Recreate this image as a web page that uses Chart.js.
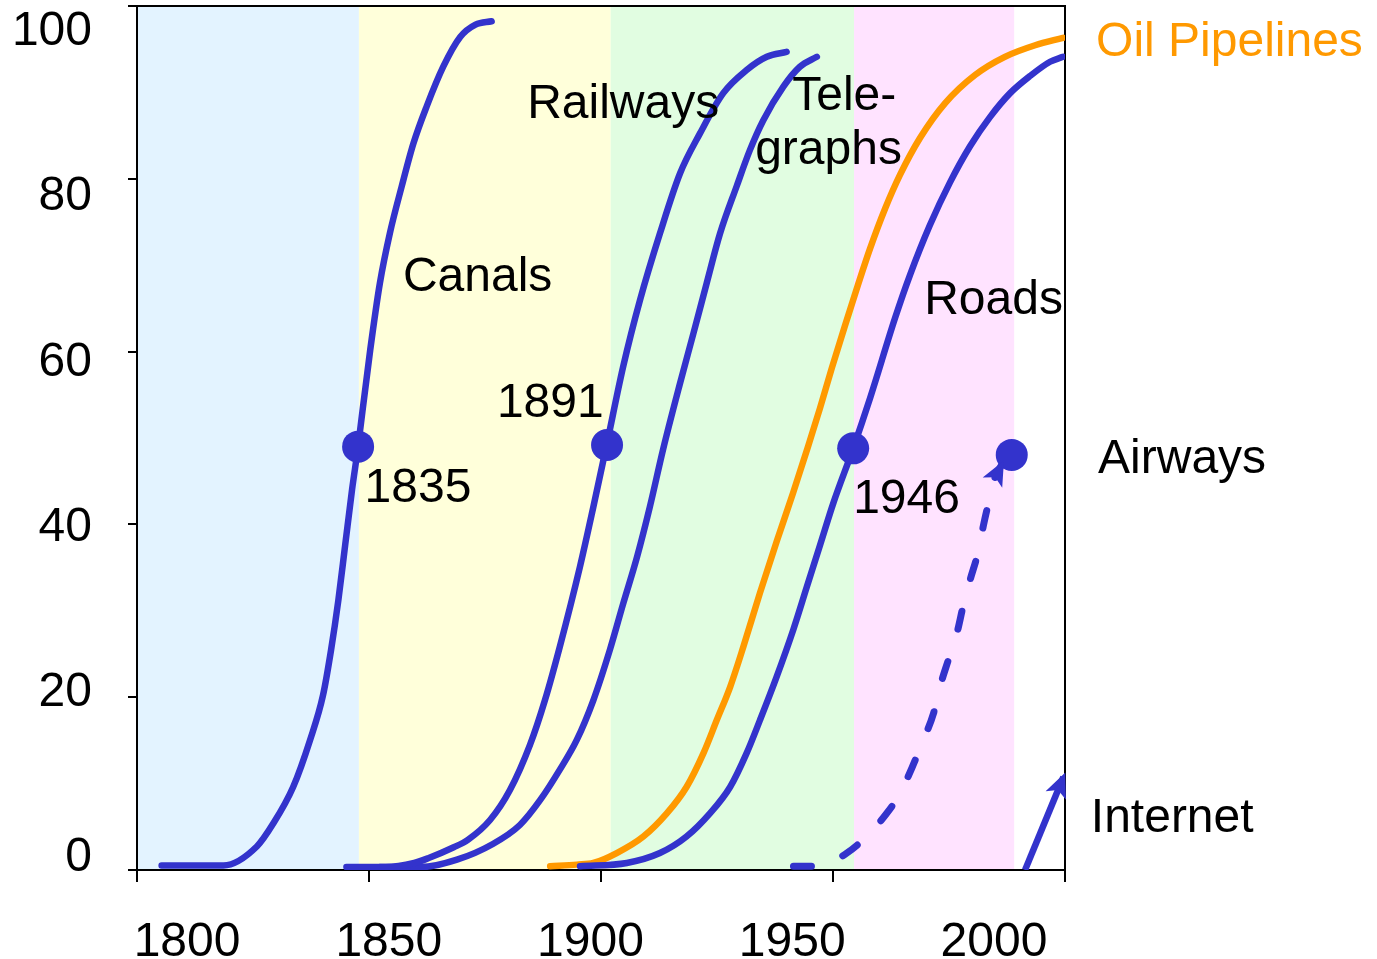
<!DOCTYPE html>
<html lang="en">
<head>
<meta charset="UTF-8">
<title>Diffusion of transport infrastructures</title>
<script src="https://cdn.jsdelivr.net/npm/chart.js"></script>
<style>
  html, body { margin: 0; padding: 0; background: #fff; }
  canvas { display: block; }
</style>
</head>
<body>
<canvas id="diffusionChart" width="1377" height="959"></canvas>
<script>
// [year, % of saturation]
const canals = [[1793.7,-0.9],[1809.0,-0.9],[1817.3,1.4],[1821.4,4.2],[1826.3,8.6],[1830.5,14.3],[1833.7,19.7],[1835.7,25.2],[1837.5,31.2],[1839.2,37.9],[1840.9,44.6],[1842.4,49.8],[1842.9,51.8],[1845.4,61.5],[1847.8,69.6],[1850.3,75.7],[1853.2,81.3],[1856.1,86.5],[1859.4,91.0],[1863.5,95.8],[1867.7,99.4],[1871.5,100.9],[1875.5,101.3]];
const railways = [[1839.5,-1.1],[1849.2,-1.1],[1856.3,-0.6],[1859.9,0],[1866.1,1.3],[1869.6,2.2],[1875.1,4.6],[1880.0,8.2],[1885.0,13.7],[1888.7,19.1],[1892.4,25.6],[1897.4,35.3],[1900.7,42.5],[1904.0,50.0],[1908.1,59.5],[1912.3,67.6],[1917.2,75.6],[1922.2,82.9],[1927.1,87.7],[1932.9,92.6],[1938.7,95.4],[1943.7,97.0],[1948.6,97.6]];
const telegraphs = [[1847.8,-1.1],[1858.0,-1.1],[1866.9,-0.2],[1875.8,1.7],[1882.5,4.0],[1887.5,7.0],[1892.4,10.7],[1896.6,14.3],[1900.7,19.1],[1904.8,25.2],[1908.1,30.8],[1911.5,36.4],[1914.7,42.5],[1918.0,49.5],[1922.2,57.5],[1925.5,63.5],[1928.8,69.6],[1932.1,75.6],[1936.2,81.3],[1939.5,85.7],[1942.8,89.3],[1947.8,93.4],[1951.9,95.8],[1956.1,97.0]];
const oilPipelines = [[1890.0,-1.0],[1896.6,-0.8],[1900.7,-0.6],[1906.5,0.6],[1913.1,2.6],[1918.9,5.4],[1923.8,8.6],[1928.0,12.7],[1931.3,16.7],[1934.6,20.7],[1937.9,25.6],[1942.0,32.1],[1946.2,38.4],[1950.2,44.2],[1953.9,49.8],[1956.9,54.5],[1959.8,59.3],[1963.1,64.5],[1966.3,69.4],[1969.3,73.8],[1973.0,78.6],[1976.7,82.7],[1981.7,87.2],[1987.9,91.4],[1995.3,94.8],[2002.7,97.0],[2010.2,98.4],[2017.1,99.3]];
const roads = [[1897.4,-1.0],[1909.0,-0.6],[1917.2,0.6],[1923.8,2.6],[1929.6,5.4],[1934.6,8.6],[1938.7,12.7],[1942.0,16.7],[1946.1,21.9],[1950.3,27.7],[1953.6,32.8],[1956.9,37.9],[1960.2,43.0],[1965.1,49.6],[1969.3,55.7],[1975.5,65.4],[1979.2,70.6],[1984.1,76.6],[1989.1,81.8],[1994.1,86.2],[1999.0,89.7],[2004.0,92.6],[2009.0,94.7],[2013.9,96.4],[2017.1,97.0]];
const airways = [[1950.3,-1.0],[1956.9,-1.0],[1963.5,0.6],[1968.4,2.6],[1973.4,5.4],[1976.7,7.8],[1980.0,11.3],[1982.5,14.3],[1985.0,17.5],[1986.6,20.7],[1988.7,24.0],[1990.8,27.2],[1992.4,30.6],[1994.1,33.7],[1996.1,37.1],[1997.4,40.3],[1999.0,43.7],[2000.2,46.0],[2001.9,47.6]];
const internet = [[2007.7,-1.45],[2017.2,9.8]];
const midpoints = [[1842.4,49.8],[1904.1,50.0],[1965.1,49.6],[2004.4,48.8]];

// background eras (year edges) and their tints
const bandEdges = [1787.6, 1842.6, 1905.0, 1965.3, 2005.0];
const bandColors = ['#E3F3FF', '#FFFFDA', '#E1FDE1', '#FFE3FF'];

const xTickLabels = [1800, 1850, 1900, 1950, 2000];
const yTickLabels = [0, 20, 40, 60, 80, 100];

const labelTexts = ['Canals', 'Railways', 'Tele-', 'graphs', 'Roads', '1835', '1891', '1946', 'Oil Pipelines', 'Airways', 'Internet'];
const labelYears = [1853.5, 1884.3, 1950.0, 1940.8, 1982.7, 1844.0, 1876.8, 1965.1, 2025.3, 2025.8, 2024.0];
const labelLevels = [68.6, 89.6, 90.6, 84.0, 65.9, 43.1, 53.4, 41.8, 97.1, 46.6, 3.2];
const labelColors = ['#000', '#000', '#000', '#000', '#000', '#000', '#000', '#000', '#FF9900', '#000', '#000'];

const BLUE = '#3333CC';
const ORANGE = '#FF9900';
const FONT = '"Liberation Sans", Arial, Helvetica, sans-serif';
const FONT_SIZE = 48;

Chart.defaults.font.family = FONT;

function curve(points, color, extra) {
  return Object.assign({
    type: 'line',
    data: points.map(([x, y]) => ({ x, y })),
    borderColor: color,
    backgroundColor: color,
    borderWidth: 6.5,
    pointRadius: 0,
    cubicInterpolationMode: 'monotone',
    borderCapStyle: 'round',
    borderJoinStyle: 'round',
    fill: false,
    order: 2
  }, extra || {});
}

// label axes must not push the plot area around
function noPad(s) {
  s.paddingTop = 0;
  s.paddingBottom = 0;
  s.paddingLeft = 0;
  s.paddingRight = 0;
}

const bandsPlugin = {
  id: 'bands',
  beforeDraw(chart) {
    const { ctx, chartArea: a, scales: { x } } = chart;
    ctx.save();
    ctx.fillStyle = '#fff';
    ctx.fillRect(0, 0, chart.width, chart.height);
    for (let i = 0; i < bandColors.length; i++) {
      const x0 = Math.max(a.left, x.getPixelForValue(bandEdges[i]));
      const x1 = Math.min(a.right, x.getPixelForValue(bandEdges[i + 1]));
      ctx.fillStyle = bandColors[i];
      ctx.fillRect(x0, a.top, x1 - x0, a.bottom - a.top);
    }
    ctx.restore();
  }
};

const framePlugin = {
  id: 'frame',
  beforeDatasetsDraw(chart) {
    const { ctx, chartArea: a } = chart;
    ctx.save();
    ctx.strokeStyle = '#000';
    ctx.lineWidth = 2;
    ctx.strokeRect(a.left, a.top, a.right - a.left, a.bottom - a.top);
    ctx.restore();
  }
};

const arrowPlugin = {
  id: 'arrows',
  afterDatasetsDraw(chart) {
    const { ctx } = chart;
    chart.data.datasets.forEach((ds, i) => {
      if (!ds.arrowHead) return;
      const pts = chart.getDatasetMeta(i).data;
      const tip = pts[pts.length - 1];
      const prev = pts[pts.length - 2];
      const ang = Math.atan2(tip.y - prev.y, tip.x - prev.x);
      ctx.save();
      ctx.translate(tip.x, tip.y);
      ctx.rotate(ang);
      ctx.beginPath();
      ctx.moveTo(5, 0);
      ctx.lineTo(-20, -11);
      ctx.lineTo(-14, 0);
      ctx.lineTo(-20, 11);
      ctx.closePath();
      ctx.fillStyle = ds.borderColor;
      ctx.fill();
      ctx.restore();
    });
  }
};

const labelsPlugin = {
  id: 'curveLabels',
  afterDatasetsDraw(chart) {
    const { ctx, scales: { x, y } } = chart;
    ctx.save();
    ctx.font = FONT_SIZE + 'px ' + FONT;
    ctx.textAlign = 'left';
    ctx.textBaseline = 'alphabetic';
    labelTexts.forEach((t, i) => {
      ctx.fillStyle = labelColors[i];
      ctx.fillText(t, x.getPixelForValue(labelYears[i]), y.getPixelForValue(labelLevels[i]));
    });
    ctx.restore();
  }
};

new Chart(document.getElementById('diffusionChart'), {
  type: 'line',
  data: {
    datasets: [
      {
        type: 'line',
        data: midpoints.map(([x, y]) => ({ x, y })),
        showLine: false,
        pointRadius: 16,
        pointBorderWidth: 0,
        pointBackgroundColor: BLUE,
        borderColor: BLUE,
        order: 0
      },
      curve(canals, BLUE),
      curve(railways, BLUE),
      curve(telegraphs, BLUE),
      curve(oilPipelines, ORANGE, { order: 3 }),
      curve(roads, BLUE),
      curve(airways, BLUE, { borderWidth: 7, borderDash: [18, 34], arrowHead: true }),
      curve(internet, BLUE, { borderCapStyle: 'butt', arrowHead: true, cubicInterpolationMode: 'default', tension: 0 })
    ]
  },
  options: {
    responsive: false,
    animation: false,
    layout: { autoPadding: false, padding: { top: 6, right: 312, bottom: 0, left: 0 } },
    plugins: {
      legend: { display: false },
      tooltip: { enabled: false }
    },
    scales: {
      x: {
        type: 'linear',
        position: 'bottom',
        weight: 1,
        min: 1787.6,
        max: 2017.6,
        afterBuildTicks: s => { s.ticks = xTickLabels.map(value => ({ value })); },
        afterFit: s => { s.height = 77; noPad(s); },
        ticks: { color: '#000', font: { size: FONT_SIZE }, padding: 32, maxRotation: 0, autoSkip: false, callback: v => String(v) },
        grid: { display: false, drawTicks: false },
        border: { display: false }
      },
      xMarks: {
        type: 'linear',
        position: 'bottom',
        weight: 0,
        min: 0,
        max: 4,
        afterFit: s => { s.height = 12; noPad(s); },
        ticks: { display: false, stepSize: 1 },
        grid: { drawOnChartArea: false, tickLength: 12, color: '#000', lineWidth: 2 },
        border: { display: true, color: '#000', width: 2 }
      },
      y: {
        type: 'linear',
        position: 'left',
        weight: 1,
        min: -1.45,
        max: 103.15,
        afterBuildTicks: s => { s.ticks = yTickLabels.map(value => ({ value })); },
        afterFit: s => { s.width = 128; noPad(s); },
        ticks: { color: '#000', font: { size: FONT_SIZE }, padding: 36, autoSkip: false, callback: v => String(v) },
        grid: { display: false, drawTicks: false },
        border: { display: false }
      },
      yMarks: {
        type: 'linear',
        position: 'left',
        weight: 0,
        min: 0,
        max: 100,
        afterFit: s => { s.width = 9; noPad(s); },
        ticks: { display: false, stepSize: 20 },
        grid: { drawOnChartArea: false, tickLength: 9, color: '#000', lineWidth: 2 },
        border: { display: true, color: '#000', width: 2 }
      }
    }
  },
  plugins: [bandsPlugin, framePlugin, arrowPlugin, labelsPlugin]
});
</script>
</body>
</html>
